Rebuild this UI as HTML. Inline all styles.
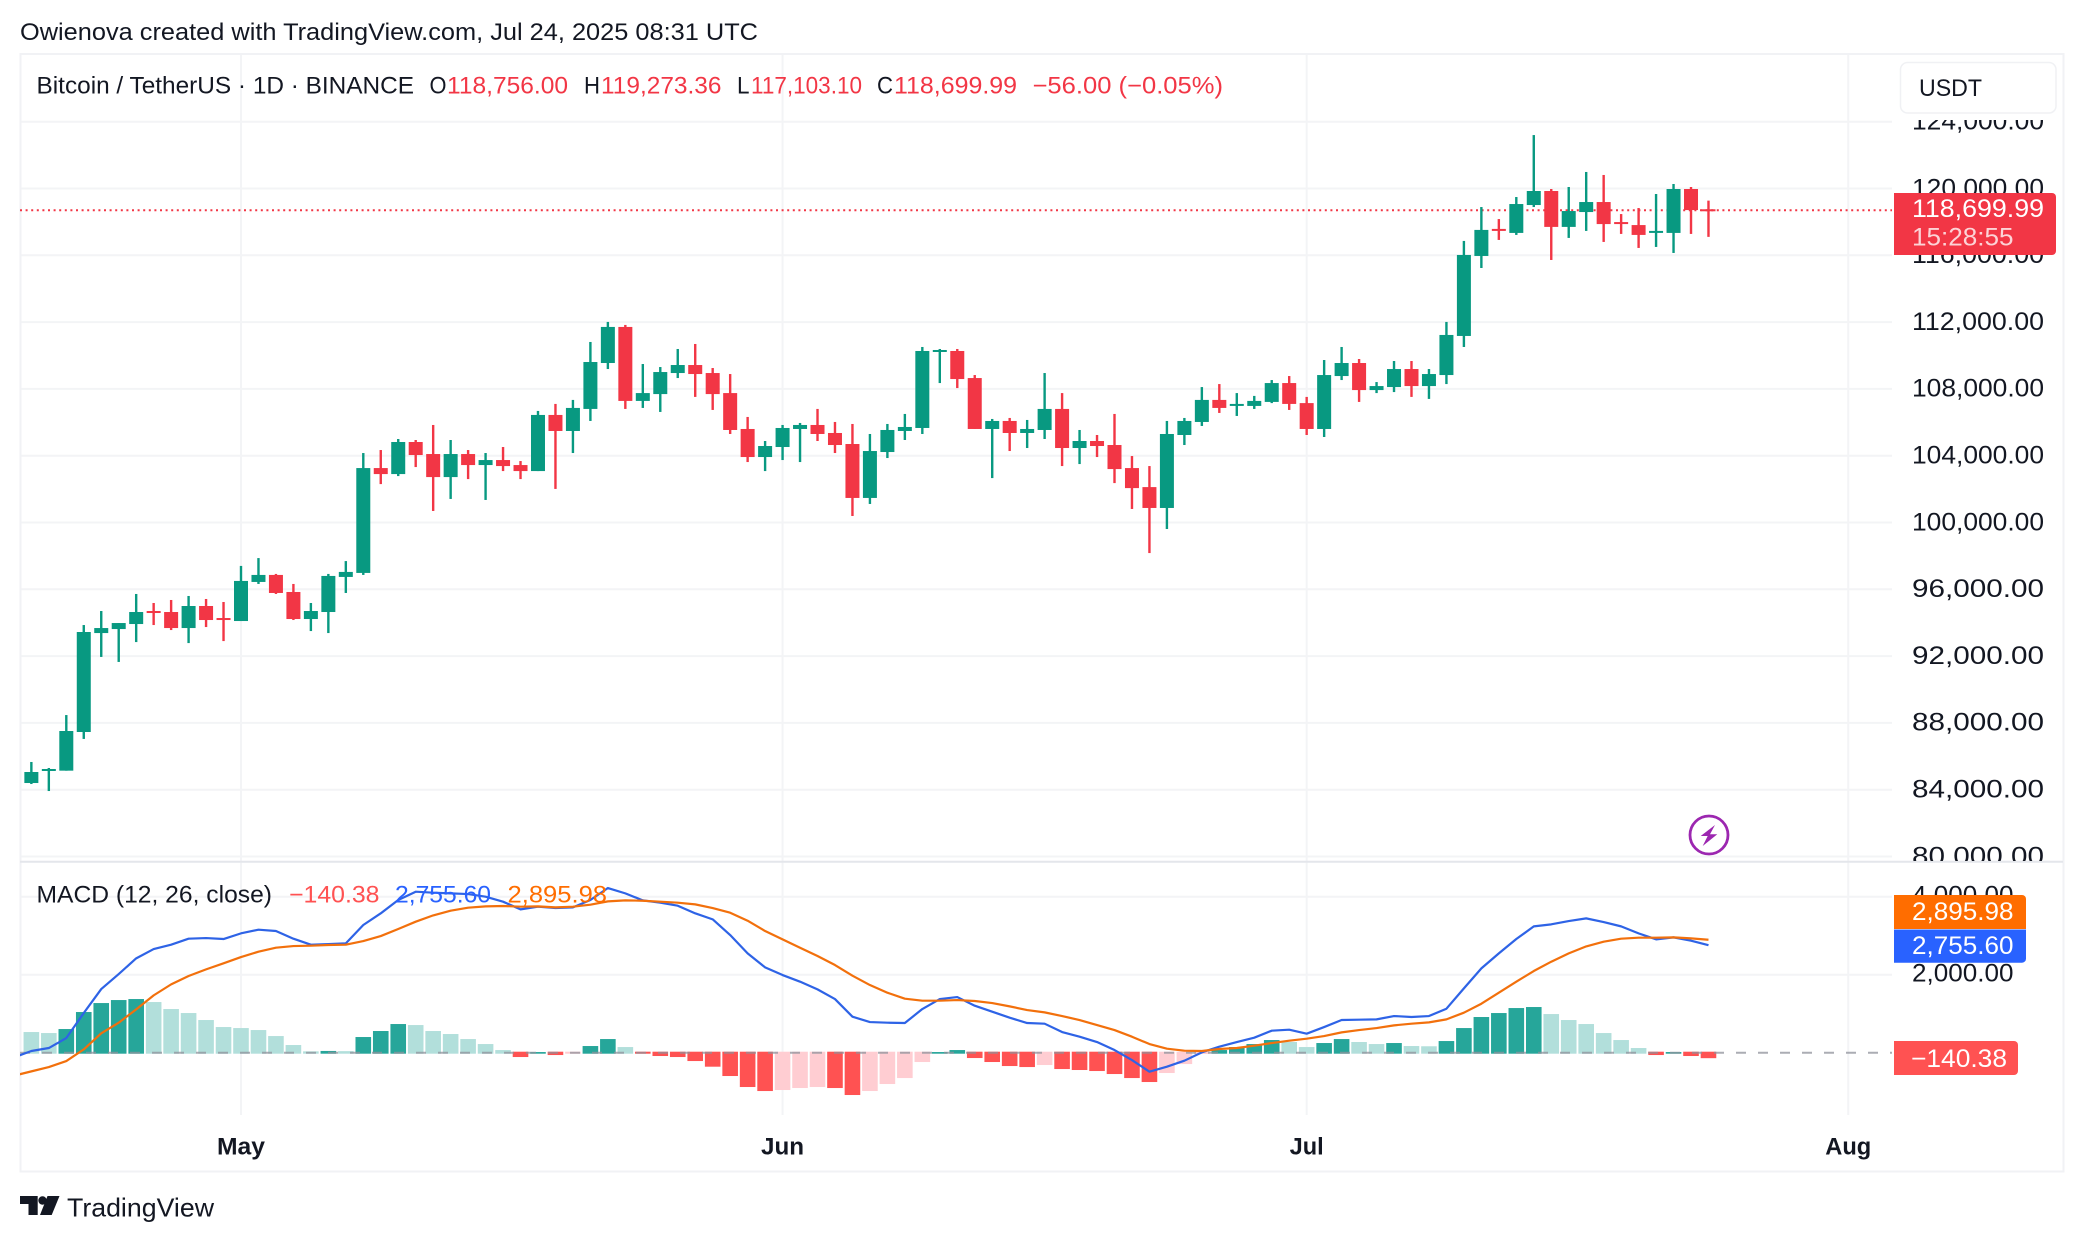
<!DOCTYPE html>
<html lang="en">
<head>
<meta charset="utf-8">
<title>BTC/USDT chart</title>
<style>
html,body{margin:0;padding:0;background:#fff;width:2084px;height:1242px;overflow:hidden}
svg{display:block;font-family:"Liberation Sans",Arial,sans-serif}
</style>
</head>
<body>
<svg id="chart" xmlns="http://www.w3.org/2000/svg" width="2084" height="1242" viewBox="0 0 2084 1242">
  <defs>
    <clipPath id="plot-clip"><rect x="20" y="54" width="1872" height="1061"/></clipPath>
    <clipPath id="price-axis-clip"><rect x="1893" y="120" width="170" height="741"/></clipPath>
  </defs>
  <rect x="0" y="0" width="2084" height="1242" fill="#ffffff"/>
  <text x="20" y="40" font-size="24" fill="#131722" textLength="738" lengthAdjust="spacingAndGlyphs">Owienova created with TradingView.com, Jul 24, 2025 08:31 UTC</text>
  <g id="grid"></g>
  <rect x="20.5" y="54" width="2043" height="1117.5" fill="none" stroke="#f1f2f5" stroke-width="2"/>
  <line x1="20" x2="2063" y1="861.7" y2="861.7" stroke="#e4e6eb" stroke-width="2"/>
  <g id="price-line-layer"></g>
  <g id="candles" clip-path="url(#plot-clip)"></g>
  <g id="histogram" clip-path="url(#plot-clip)"></g>
  <line x1="20" x2="1892" y1="1052.7" y2="1052.7" stroke="#8f929b" stroke-opacity=".75" stroke-width="2" stroke-dasharray="10 12"/>
  <g id="macd-lines" clip-path="url(#plot-clip)"></g>
  <g id="price-axis" clip-path="url(#price-axis-clip)"></g>
  <g id="macd-axis"></g>
  <g id="time-axis"></g>

  <g font-size="24">
    <text x="36.5" y="93.5" fill="#131722" textLength="377.5" lengthAdjust="spacingAndGlyphs">Bitcoin / TetherUS · 1D · BINANCE</text>
    <text x="429.5" y="93.5" fill="#131722" textLength="17" lengthAdjust="spacingAndGlyphs">O</text>
    <text x="447" y="93.5" fill="#F23645" textLength="121" lengthAdjust="spacingAndGlyphs">118,756.00</text>
    <text x="584" y="93.5" fill="#131722" textLength="16" lengthAdjust="spacingAndGlyphs">H</text>
    <text x="601" y="93.5" fill="#F23645" textLength="120.5" lengthAdjust="spacingAndGlyphs">119,273.36</text>
    <text x="737" y="93.5" fill="#131722" textLength="12.5" lengthAdjust="spacingAndGlyphs">L</text>
    <text x="751" y="93.5" fill="#F23645" textLength="111" lengthAdjust="spacingAndGlyphs">117,103.10</text>
    <text x="877" y="93.5" fill="#131722" textLength="16" lengthAdjust="spacingAndGlyphs">C</text>
    <text x="894" y="93.5" fill="#F23645" textLength="123" lengthAdjust="spacingAndGlyphs">118,699.99</text>
    <text x="1032.5" y="93.5" fill="#F23645" textLength="190.5" lengthAdjust="spacingAndGlyphs">−56.00 (−0.05%)</text>
  </g>
  <g font-size="24">
    <text x="36.5" y="902.5" fill="#131722" textLength="235.5" lengthAdjust="spacingAndGlyphs">MACD (12, 26, close)</text>
    <text x="289" y="902.5" fill="#FF5252" textLength="90.5" lengthAdjust="spacingAndGlyphs">−140.38</text>
    <text x="395" y="902.5" fill="#2962FF" textLength="96" lengthAdjust="spacingAndGlyphs">2,755.60</text>
    <text x="507.5" y="902.5" fill="#FF6D00" textLength="99.5" lengthAdjust="spacingAndGlyphs">2,895.98</text>
  </g>

  <g>
    <rect x="1900.5" y="62.5" width="155.5" height="50.5" rx="7" fill="#ffffff" stroke="#f0f1f4" stroke-width="1.5"/>
    <text x="1919" y="96" font-size="24" fill="#131722" textLength="63" lengthAdjust="spacingAndGlyphs">USDT</text>
  </g>

  <g>
    <path d="M1894 193H2052a4 4 0 0 1 4 4V251a4 4 0 0 1 -4 4H1894Z" fill="#F23645"/>
    <text x="1912" y="217" font-size="25" fill="#ffffff" textLength="132" lengthAdjust="spacingAndGlyphs">118,699.99</text>
    <text x="1912" y="245.5" font-size="25" fill="#ffffff" fill-opacity=".78" textLength="101.5" lengthAdjust="spacingAndGlyphs">15:28:55</text>
  </g>
  <g>
    <path d="M1894 895H2022a4 4 0 0 1 4 4V929H1894Z" fill="#FF6D00"/>
    <text x="1912" y="920" font-size="25" fill="#ffffff" textLength="101.5" lengthAdjust="spacingAndGlyphs">2,895.98</text>
  </g>
  <g>
    <path d="M1894 929.5H2026V958.7a4 4 0 0 1 -4 4H1894Z" fill="#2962FF"/>
    <text x="1912" y="954" font-size="25" fill="#ffffff" textLength="101.5" lengthAdjust="spacingAndGlyphs">2,755.60</text>
  </g>
  <g>
    <path d="M1894 1041H2014a4 4 0 0 1 4 4V1071a4 4 0 0 1 -4 4H1894Z" fill="#FF5252"/>
    <text x="1911" y="1067" font-size="25" fill="#ffffff" textLength="96" lengthAdjust="spacingAndGlyphs">−140.38</text>
  </g>

  <g>
    <circle cx="1709" cy="835" r="19" fill="#ffffff" stroke="#9C27B0" stroke-width="2.8"/>
    <polygon points="1715,825 1700.7,836 1707.7,836 1702.7,846 1717.3,834.3 1710,834.3" fill="#9C27B0"/>
  </g>

  <g>
    <path d="M20 1196H37.7V1215H28.5V1204H20Z" fill="#131722"/>
    <circle cx="42.5" cy="1200.5" r="4.2" fill="#131722"/>
    <polygon points="47.5,1196 59.5,1196 51.7,1215 40,1215" fill="#131722"/>
    <text x="67" y="1216.5" font-size="26" fill="#131722" textLength="147" lengthAdjust="spacingAndGlyphs">TradingView</text>
  </g>
</svg>
<script>
// ---- chart data ----
const firstDayOffset = -12; // first candle, in days before May 1 (Apr 19)
const opens = [84400,85140,85140,87455,93380,93620,93920,94700,94640,93680,
95000,94280,94100,96440,96860,95840,94220,94640,96740,96980,
103260,102900,104820,104100,102720,104100,103440,103740,103440,103080,
106440,105480,106800,109550,111710,107280,107690,108950,109430,108950,
107750,105600,103920,104520,105600,105840,105360,104700,101470,104220,
105480,105660,110210,110270,108650,105600,106080,105360,105540,106800,
104460,104880,104640,103260,102120,100870,105240,106020,107340,106980,
106980,107220,108350,107150,105600,108770,109550,107930,108110,109190,
108170,108830,111170,115960,117580,117340,119010,119850,117700,118590,
119190,117990,117810,117340,117340,119970,118756];
const highs = [85660,85300,88470,93860,94700,93980,95720,95180,95360,95600,
95420,95240,97400,97870,96920,96320,95180,96920,97690,104160,
104340,105000,104940,105840,104940,104340,104160,104520,103680,106680,
107100,107340,110810,112010,111830,109490,109310,110390,110690,109250,
108890,106320,104880,105840,105960,106800,106020,105900,105300,105900,
106500,110510,110390,110390,108830,106200,106260,106140,108950,107750,
105540,105240,106500,103980,103380,106080,106260,108110,108290,107750,
107580,108530,108770,107520,109730,110510,109790,108410,109670,109670,
109190,112010,116860,118890,118170,119490,123200,119970,120090,120990,
120810,118470,118830,119670,120270,120090,119273.36];
const lows = [84340,83920,85140,87040,91950,91650,92840,93860,93560,92780,
93740,92900,94100,96320,95720,94160,93500,93380,95780,96860,
102300,102780,103320,100690,101410,102600,101350,103080,102600,103080,
102010,104160,106080,109190,106800,106860,106620,108650,107520,106740,
105300,103620,103080,103740,103620,104880,104160,100390,101110,103860,
104940,105300,108350,108050,105600,102660,104280,104460,105000,103380,
103500,103920,102360,100810,98170,99610,104640,105780,106560,106380,
106800,107150,106740,105240,105120,108530,107220,107750,107810,107520,
107400,108290,110510,115240,116920,117220,118890,115720,117040,117460,
116800,117280,116440,116500,116140,117280,117103.10];
const closes = [85060,85240,87515,93443,93680,93980,94640,94580,93680,95000,
94160,94160,96500,96860,95780,94220,94700,96800,97040,103260,
102900,104820,104040,102720,104100,103440,103740,103380,103080,106440,
105480,106860,109610,111710,107280,107750,109010,109430,108890,107690,
105540,103920,104580,105660,105840,105300,104640,101470,104280,105540,
105720,110270,110330,108590,105600,106080,105360,105600,106800,104460,
104880,104580,103200,102060,100870,105300,106080,107340,106860,107100,
107280,108350,107100,105600,108830,109550,107930,108170,109190,108170,
108890,111230,116020,117520,117460,119070,119850,117700,118650,119190,
117870,117870,117220,117460,119970,118710,118699.99];
const histogramValues = [530,504,607,1043,1273,1350,1376,1299,1120,1017,
838,658,632,581,427,197,35,45,40,402,
556,735,709,556,479,350,222,68,-111,17,
-60,-26,171,350,145,-26,-85,-111,-214,-359,
-598,-880,-983,-957,-906,-880,-906,-1085,-983,-803,
-650,-239,17,68,-137,-239,-342,-368,-316,-419,
-444,-470,-547,-650,-752,-521,-291,-34,68,145,
222,325,274,145,248,350,274,222,248,171,
165,299,632,915,1017,1145,1171,991,838,735,
504,325,120,-60,17,-85,-140.38];
// MACD and signal lines start one bar before the first candle (clipped by the frame)
const macdLine = [-120,43,120,376,1017,1632,2017,2419,2658,2769,2923,
2940,2915,3060,3154,3120,2923,2769,2786,2803,3274,
3573,3915,4128,4103,4085,4068,4000,3872,3675,3744,
3709,3726,3915,4222,4085,3906,3846,3769,3573,3419,
3017,2547,2188,1991,1821,1624,1376,923,786,769,
761,1120,1376,1427,1205,1051,897,761,744,530,
410,274,68,-188,-487,-359,-205,9,154,274,
385,564,590,487,658,838,846,855,940,915,
940,1128,1650,2162,2547,2915,3239,3291,3376,3444,
3350,3239,3060,2906,2957,2872,2755.60];
const signalLine = [-590,-479,-368,-214,85,496,769,1111,1470,1752,1966,
2137,2291,2453,2590,2692,2735,2744,2761,2769,2863,
2991,3171,3359,3521,3641,3718,3752,3761,3744,3752,
3726,3744,3795,3880,3906,3897,3872,3846,3803,3709,
3590,3385,3120,2906,2692,2479,2248,1974,1735,1538,
1385,1333,1333,1350,1325,1273,1188,1094,1034,940,
838,709,581,410,222,103,51,43,94,120,
179,248,308,359,427,521,581,632,701,744,
778,855,1026,1256,1538,1821,2094,2333,2547,2726,
2846,2923,2949,2949,2957,2932,2895.98];
const priceTicks = [124000,120000,116000,112000,108000,104000,100000,96000,92000,88000,84000,80000];
const macdTicks = [4000,2000];
const monthLabels = ["May","Jun","Jul","Aug"];
const monthDays = [0,31,61,92]; // days after May 1
const monthLabelWidths = [48,43,34,46];

// ---- axis functions ----
const NS = "http://www.w3.org/2000/svg";
const xDay = d => 241 + 17.47 * d;
const xBar = i => xDay(firstDayOffset + i);
const yPrice = v => 121.7 + (124000 - v) * 66.8 / 4000;
const yMacd = v => 1052.7 - v * 0.039;
const make = (tag, parent) => { const e = document.createElementNS(NS, tag); parent.appendChild(e); return e; };
const fmt = v => v.toLocaleString("en-US", {minimumFractionDigits: 2, maximumFractionDigits: 2});
const UP = "#089981", DOWN = "#F23645", GRID = "#f3f4f6";

const grid = document.getElementById("grid");
const gridLine = (x1, y1, x2, y2) => {
  const l = make("line", grid);
  l.setAttribute("x1", x1); l.setAttribute("y1", y1);
  l.setAttribute("x2", x2); l.setAttribute("y2", y2);
  l.setAttribute("stroke", GRID); l.setAttribute("stroke-width", 2);
  return l;
};

// price axis
const priceAxis = document.getElementById("price-axis");
priceTicks.forEach(v => {
  const g = gridLine(20, yPrice(v), 1892, yPrice(v));
  
  
  const t = make("text", priceAxis);
  
  
  t.setAttribute("x", 1912); t.setAttribute("y", yPrice(v) + 7.8);
  t.setAttribute("font-size", 25); t.setAttribute("fill", "#131722");
  t.setAttribute("textLength", 132); t.setAttribute("lengthAdjust", "spacingAndGlyphs");
  t.textContent = fmt(v);
});

// macd axis
const macdAxis = document.getElementById("macd-axis");
macdTicks.forEach(v => {
  const g = gridLine(20, yMacd(v), 1892, yMacd(v));
  
  
  const t = make("text", macdAxis);
  
  
  t.setAttribute("x", 1912); t.setAttribute("y", yMacd(v) + 7);
  t.setAttribute("font-size", 25); t.setAttribute("fill", "#131722");
  t.setAttribute("textLength", 101.5); t.setAttribute("lengthAdjust", "spacingAndGlyphs");
  t.textContent = fmt(v);
});

// time axis
const timeAxis = document.getElementById("time-axis");
monthLabels.forEach((m, k) => {
  const x = xDay(monthDays[k]);
  const g = gridLine(x, 54, x, 1115);
  
  
  const t = make("text", timeAxis);
  
  
  t.setAttribute("x", x); t.setAttribute("y", 1154.5);
  t.setAttribute("text-anchor", "middle");
  t.setAttribute("font-size", 24); t.setAttribute("font-weight", 700); t.setAttribute("fill", "#131722");
  t.setAttribute("textLength", monthLabelWidths[k]); t.setAttribute("lengthAdjust", "spacingAndGlyphs");
  t.textContent = m;
});

// last price line
const lastLine = make("line", document.getElementById("price-line-layer"));


const lastClose = closes[closes.length - 1];
lastLine.setAttribute("x1", 20); lastLine.setAttribute("x2", 1892);
lastLine.setAttribute("y1", yPrice(lastClose)); lastLine.setAttribute("y2", yPrice(lastClose));
lastLine.setAttribute("stroke", DOWN); lastLine.setAttribute("stroke-width", 2);
lastLine.setAttribute("stroke-dasharray", "2 3.6");

// candles
const candleLayer = document.getElementById("candles");
closes.forEach((c, i) => {
  const o = opens[i], color = c >= o ? UP : DOWN, x = xBar(i);
  const wick = make("rect", candleLayer);
  
  
  wick.setAttribute("x", x - 1.2); wick.setAttribute("width", 2.4);
  wick.setAttribute("y", yPrice(highs[i]));
  wick.setAttribute("height", yPrice(lows[i]) - yPrice(highs[i]));
  wick.setAttribute("fill", color);
  const body = make("rect", candleLayer);
  
  
  const top = yPrice(Math.max(o, c));
  body.setAttribute("x", x - 7); body.setAttribute("width", 14);
  body.setAttribute("y", top);
  body.setAttribute("height", Math.max(2, yPrice(Math.min(o, c)) - top));
  body.setAttribute("fill", color);
});

// histogram
const histLayer = document.getElementById("histogram");
histogramValues.forEach((v, i) => {
  const rising = i > 0 && v > histogramValues[i - 1];
  const color = v >= 0 ? (rising ? "#26A69A" : "#B2DFDB") : (rising ? "#FFCDD2" : "#FF5252");
  const bar = make("rect", histLayer);
  
  
  const y0 = yMacd(0), yv = yMacd(v);
  const top = v >= 0 ? yv : y0 - 1;
  const bottom = v >= 0 ? y0 + 1 : yv;
  bar.setAttribute("x", xBar(i) - 7.8); bar.setAttribute("width", 15.6);
  bar.setAttribute("y", top); bar.setAttribute("height", bottom - top);
  bar.setAttribute("fill", color);
});

// macd + signal lines
const linesLayer = document.getElementById("macd-lines");
const pointsOf = arr => arr.map((v, i) => xBar(i - 1).toFixed(2) + "," + yMacd(v).toFixed(2)).join(" ");
const macdPath = make("polyline", linesLayer);


macdPath.setAttribute("points", pointsOf(macdLine));
macdPath.setAttribute("fill", "none"); macdPath.setAttribute("stroke", "#2E63E6");
macdPath.setAttribute("stroke-width", 2.2); macdPath.setAttribute("stroke-linejoin", "round");
const signalPath = make("polyline", linesLayer);


signalPath.setAttribute("points", pointsOf(signalLine));
signalPath.setAttribute("fill", "none"); signalPath.setAttribute("stroke", "#F2700C");
signalPath.setAttribute("stroke-width", 2.2); signalPath.setAttribute("stroke-linejoin", "round");
</script>
</body>
</html>
